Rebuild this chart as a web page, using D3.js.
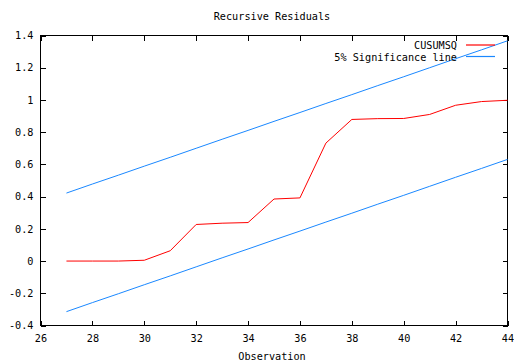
<!DOCTYPE html>
<html>
<head>
<meta charset="utf-8">
<script src="https://cdn.jsdelivr.net/npm/d3@7"></script>
<style>
  html, body { margin: 0; padding: 0; background: #fff; }
  svg { display: block; }
  text { font-family: "DejaVu Sans Mono", "Liberation Mono", monospace; font-size: 10.2px; fill: #000; }
</style>
</head>
<body>
<svg id="chart" width="514" height="361"></svg>
<script>
// ---- data ----
const observations = [27, 28, 29, 30, 31, 32, 33, 34, 35, 36, 37, 38, 39, 40, 41, 42, 43, 44];
const cusumsq = [0, 0, 0, 0.005, 0.064, 0.227, 0.235, 0.239, 0.385, 0.392, 0.732, 0.879, 0.884, 0.885, 0.91, 0.967, 0.99, 0.998];
const upperBound = [0.422, 0.478, 0.533, 0.589, 0.644, 0.700, 0.756, 0.811, 0.867, 0.922, 0.978, 1.033, 1.089, 1.144, 1.200, 1.256, 1.311, 1.367];
const lowerBound = [-0.314, -0.258, -0.203, -0.147, -0.092, -0.036, 0.020, 0.075, 0.131, 0.186, 0.242, 0.297, 0.353, 0.408, 0.464, 0.520, 0.575, 0.631];
const xTicks = [26, 28, 30, 32, 34, 36, 38, 40, 42, 44];
const yTicks = [-0.4, -0.2, 0, 0.2, 0.4, 0.6, 0.8, 1, 1.2, 1.4];
const seriesNames = ["CUSUMSQ", "5% Significance line"];
const title = "Recursive Residuals";
const xLabel = "Observation";

(function () {
// ---- layout ----
const svg = d3.select("#chart");
const mLeft = 40.5, mRight = 507.5, mTop = 35.5, mBottom = 325.5;
const x = d3.scaleLinear().domain([26, 44]).range([mLeft, mRight]);
const y = d3.scaleLinear().domain([-0.4, 1.4]).range([mBottom, mTop]);
const red = "#ff0000", blue = "#1a88ff";

svg.append("text").attr("x", 272).attr("y", 20).attr("text-anchor", "middle").text(title);
svg.append("text").attr("x", 272).attr("y", 360).attr("text-anchor", "middle").text(xLabel);

const fmt = d => (d === 0 ? "0" : String(+d.toFixed(1)));

const tickLen = 5;
const axB = d3.axisBottom(x).tickValues(xTicks).tickSize(-tickLen).tickPadding(9).tickFormat(d3.format("d"));
const axT = d3.axisTop(x).tickValues(xTicks).tickSize(-tickLen).tickFormat("");
const axL = d3.axisLeft(y).tickValues(yTicks).tickSize(-tickLen).tickPadding(7).tickFormat(fmt);
const axR = d3.axisRight(y).tickValues(yTicks).tickSize(-tickLen).tickFormat("");

function style(g) {
  g.select(".domain").remove();
  g.selectAll(".tick line").attr("stroke", "#000").attr("shape-rendering", "crispEdges");
  g.selectAll(".tick text").style("font-family", '"DejaVu Sans Mono", monospace').style("font-size", "10.2px").attr("fill", "#000");
}
svg.append("g").attr("transform", `translate(0,${mBottom})`).call(axB).call(style);
svg.append("g").attr("transform", `translate(0,${mTop})`).call(axT).call(style);
svg.append("g").attr("transform", `translate(${mLeft},0)`).call(axL).call(style);
svg.append("g").attr("transform", `translate(${mRight},0)`).call(axR).call(style);

svg.append("rect").attr("x", mLeft).attr("y", mTop).attr("width", mRight - mLeft).attr("height", mBottom - mTop)
  .attr("fill", "none").attr("stroke", "#000").attr("shape-rendering", "crispEdges");

const line = d3.line().x(d => x(d[0])).y(d => y(d[1]));
const zip = vals => observations.map((o, i) => [o, vals[i]]);
svg.append("path").datum(zip(cusumsq)).attr("d", line).style("fill", "none").style("stroke", red).style("stroke-width", 1);
svg.append("path").datum(zip(upperBound)).attr("d", line).style("fill", "none").style("stroke", blue).style("stroke-width", 1);
svg.append("path").datum(zip(lowerBound)).attr("d", line).style("fill", "none").style("stroke", blue).style("stroke-width", 1);

const legY = [45, 56.5];
const legColors = [red, blue];
seriesNames.forEach((name, i) => {
  svg.append("text").attr("x", 457).attr("y", legY[i] + 4).attr("text-anchor", "end").text(name);
  svg.append("path").attr("d", `M466,${legY[i]}H495`)
    .style("fill", "none").style("stroke", legColors[i]).style("stroke-width", 1.2);
});
})();
</script>
</body>
</html>
